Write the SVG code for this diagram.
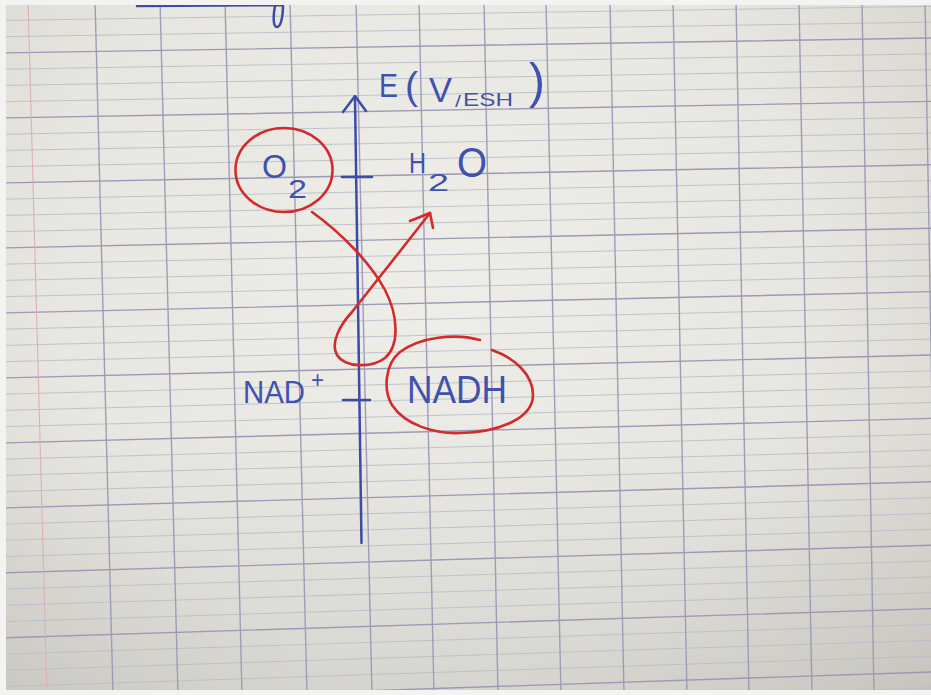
<svg xmlns="http://www.w3.org/2000/svg" width="931" height="695" viewBox="0 0 931 695">
<defs>
<radialGradient id="paper" cx="430" cy="280" r="700" gradientUnits="userSpaceOnUse">
<stop offset="0" stop-color="#efede8"/>
<stop offset="0.55" stop-color="#e8e6e0"/>
<stop offset="1" stop-color="#d2cfc8"/>
</radialGradient>
<linearGradient id="shade" x1="0" y1="0" x2="0" y2="1">
<stop offset="0.6" stop-color="#000" stop-opacity="0"/>
<stop offset="1" stop-color="#000" stop-opacity="0.07"/>
</linearGradient>
<clipPath id="pc"><rect x="6" y="5" width="925" height="685"/></clipPath>
</defs>
<style>
.maj{stroke:#9d98b6;stroke-width:1.4;fill:none}
.min{stroke:#b7bfc7;stroke-width:0.9;fill:none}
.ver{stroke:#a09bb9;stroke-width:1.4;fill:none}
.blue{fill:#3f52ad;font-family:"Liberation Sans",Arial,sans-serif}
.ink{stroke:#3a4ca8;stroke-width:2.5;fill:none;stroke-linecap:round;stroke-linejoin:round}
.red{stroke:#d22b2b;stroke-width:2.6;fill:none;stroke-linecap:round;stroke-linejoin:round}
</style>
<rect width="931" height="695" fill="#f3f3f1"/>
<g id="paper-bg" clip-path="url(#pc)">
<rect x="6" y="5" width="925" height="685" fill="url(#paper)"/>
<rect x="6" y="5" width="925" height="685" fill="url(#shade)"/>
<g class="min">
<path d="M0 20.5L931 6.3M0 36.75L931 22.15"/>
<path d="M0 69.25L931 53.85M0 85.5L931 69.7M0 101.75L931 85.55"/>
<path d="M0 134.25L931 117.25M0 150.5L931 133.1M0 166.75L931 148.95"/>
<path d="M0 199.25L931 180.65M0 215.5L931 196.5M0 231.75L931 212.35"/>
<path d="M0 264.25L931 244.05M0 280.5L931 259.9M0 296.75L931 275.75"/>
<path d="M0 329.25L931 307.45M0 345.5L931 323.3M0 361.75L931 339.15"/>
<path d="M0 394.25L931 370.85M0 410.5L931 386.7M0 426.75L931 402.55"/>
<path d="M0 459.25L931 434.25M0 475.5L931 450.1M0 491.75L931 465.95"/>
<path d="M0 524.25L931 497.65M0 540.5L931 513.5M0 556.75L931 529.35"/>
<path d="M0 589.25L931 561.05M0 605.5L931 576.9M0 621.75L931 592.75"/>
<path d="M0 654.25L931 624.45M0 670.5L931 640.3M0 686.75L931 656.15M0 719L931 687.85"/>
</g>
<g class="maj">
<path d="M0 53L931 38M0 118L931 101.4M0 183L931 164.8M0 248L931 228.2M0 313L931 291.6M0 378L931 355M0 443L931 418.4M0 508L931 481.8M0 573L931 545.2M0 638L931 608.6M0 703L931 672"/>
</g>
<path d="M28 0L47 695" stroke="#dcb0b6" stroke-width="1.1" fill="none"/>
<g class="ver">
<path d="M95 0L113 695M160 0L178 695M225 0L242 695M290 0L307 695M356 0L372 695M419 0L434 695M484 0L498 695M546 0L561 695M610 0L624 695M673 0L687 695M736 0L749 695M799 0L812 695M862 0L874 695M925 0L937 695"/>
</g>
<path class="ink" d="M137 6L282 5M283 6C283 16 281 27 277 27C273 27 273 16 275 6" stroke-width="2"/>
</g>
<g id="node-axis">
<path class="ink" d="M355 97L361.5 543"/>
<path class="ink" d="M343 112L355 96L366 111"/>
<path class="ink" d="M342 177L372 177"/>
<path class="ink" d="M343 400L370 400"/>
</g>
<g id="node-e-label">
<text class="blue" x="379" y="97" font-size="34" textLength="19" lengthAdjust="spacingAndGlyphs">E</text>
<text class="blue" x="405" y="99" font-size="38" textLength="13" lengthAdjust="spacingAndGlyphs">(</text>
<text class="blue" x="429" y="102" font-size="35" textLength="23" lengthAdjust="spacingAndGlyphs">V</text>
<text class="blue" x="455" y="107" font-size="17" textLength="6" lengthAdjust="spacingAndGlyphs">/</text>
<text class="blue" x="463" y="106" font-size="19" textLength="50" lengthAdjust="spacingAndGlyphs">ESH</text>
<text class="blue" x="529" y="98" font-size="50" textLength="16" lengthAdjust="spacingAndGlyphs">)</text>
</g>
<g id="node-o2">
<ellipse class="red" cx="284" cy="170" rx="48.5" ry="42"/>
<text class="blue" x="262" y="178" font-size="34" textLength="25" lengthAdjust="spacingAndGlyphs">O</text>
<text class="blue" x="288" y="198" font-size="25" textLength="19" lengthAdjust="spacingAndGlyphs">2</text>
</g>
<g id="node-h2o">
<text class="blue" x="409" y="173" font-size="29" textLength="17" lengthAdjust="spacingAndGlyphs">H</text>
<text class="blue" x="428" y="191" font-size="24" textLength="21" lengthAdjust="spacingAndGlyphs">2</text>
<text class="blue" x="457" y="177" font-size="43" textLength="30" lengthAdjust="spacingAndGlyphs">O</text>
</g>
<g id="node-nadplus">
<text class="blue" x="243" y="403" font-size="32" textLength="62" lengthAdjust="spacingAndGlyphs">NAD</text>
<text class="blue" x="311" y="388" font-size="23" textLength="13" lengthAdjust="spacingAndGlyphs">+</text>
</g>
<g id="node-nadh">
<path class="red" d="M480 340C455 333 420 337 400 352C385 364 383 390 392 405C405 425 435 434 460 433C500 432 533 418 533 395C533 375 515 358 492 350"/>
<text class="blue" x="407" y="403" font-size="38" textLength="100" lengthAdjust="spacingAndGlyphs">NADH</text>
</g>
<g id="connectors">
<path class="red" d="M312 212C340 232 370 262 385 290C398 315 400 345 385 358C372 368 345 368 337 355C330 343 340 325 352 312C375 283 405 245 430 213"/>
<path class="red" d="M410 221L430 213L433 228"/>
</g>
</svg>
